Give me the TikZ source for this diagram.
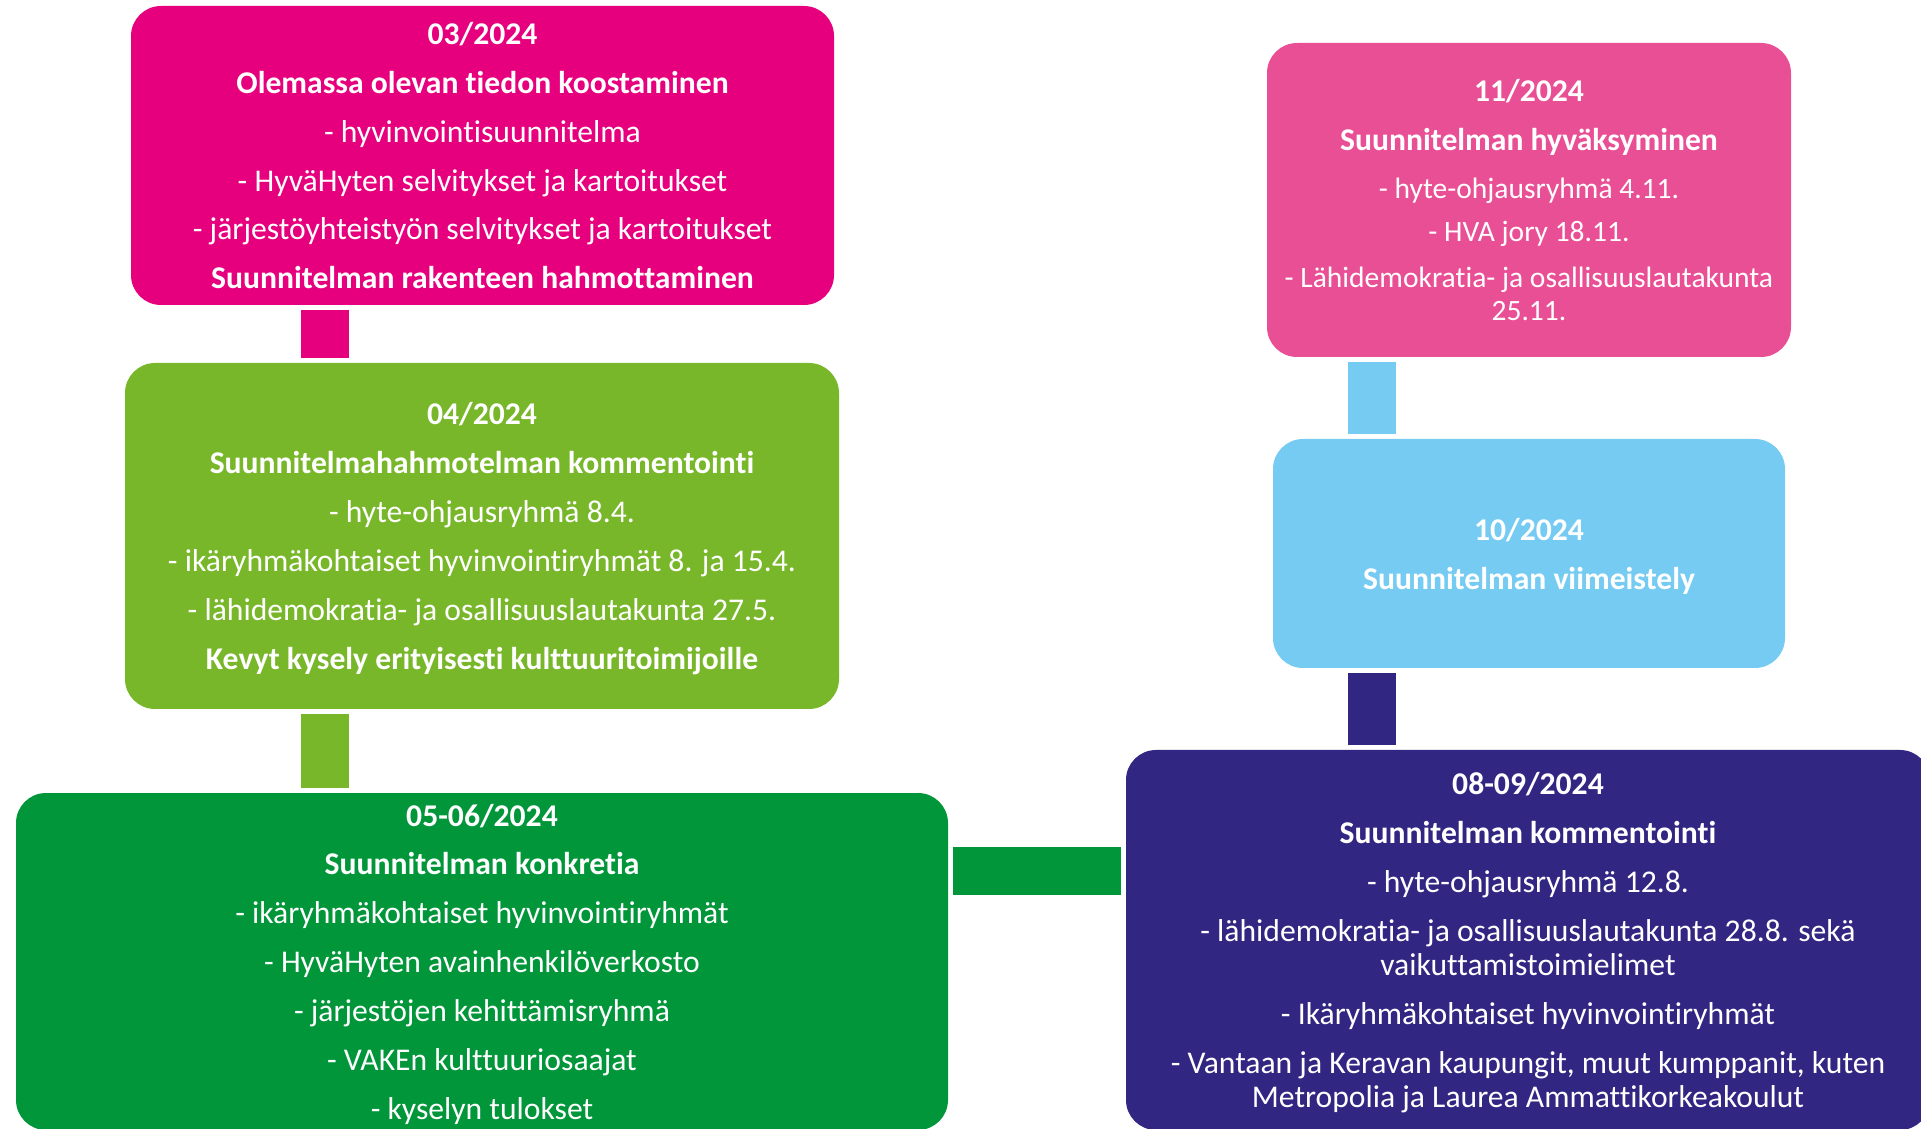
\documentclass[tikz,border=0pt]{standalone}
\usepackage{fontspec}
\setmainfont{Carlito}[Ligatures=NoCommon,Contextuals=NoAlternate]
\usepackage{xcolor}
\usetikzlibrary{positioning,calc}

\definecolor{phasemag}{HTML}{E6007E}
\definecolor{phaselime}{HTML}{78B72A}
\definecolor{phasegreen}{HTML}{009639}
\definecolor{phasepink}{HTML}{E94F94}
\definecolor{phasesky}{HTML}{76CBF2}
\definecolor{phasenavy}{HTML}{312682}
\newcommand{\phasehead}[1]{{\fontsize{9}{9.7}\selectfont\bfseries #1}}

\begin{document}
\begin{tikzpicture}
      [stage/.style={rounded corners=3mm,inner sep=0,text depth=0pt,text=white,align=center,font=\fontsize{9}{9.7}\selectfont},
       link/.style={line width=4.8mm,shorten <=0.4mm,shorten >=0.4mm}]
      \useasboundingbox (0,0) rectangle (19.21,-11.29);
      \clip (0,0) rectangle (19.21,-11.29);

      \node[stage,fill=phasemag,minimum width=7.03cm,minimum height=2.99cm] (mar) at (4.825,-1.555)
        {\textbf{03/2024}\\[4.2pt]\textbf{Olemassa olevan tiedon koostaminen}\\[4.2pt]- hyvinvointisuunnitelma\\[4.2pt]- HyväHyten selvitykset ja kartoitukset\\[4.2pt]- järjestöyhteistyön selvitykset ja kartoitukset\\[4.2pt]\textbf{Suunnitelman rakenteen hahmottaminen}};
      \node[stage,fill=phaselime,minimum width=7.14cm,minimum height=3.46cm] (apr) at (4.82,-5.36)
        {\textbf{04/2024}\\[4.2pt]\textbf{Suunnitelmahahmotelman kommentointi}\\[4.2pt]- hyte-ohjausryhmä 8.4.\\[4.2pt]- ikäryhmäkohtaiset hyvinvointiryhmät 8. ja 15.4.\\[4.2pt]- lähidemokratia- ja osallisuuslautakunta 27.5.\\[4.2pt]\textbf{Kevyt kysely erityisesti kulttuuritoimijoille}};
      \node[stage,fill=phasegreen,minimum width=9.32cm,minimum height=3.37cm] (jun) at (4.82,-9.615)
        {\textbf{05-06/2024}\\[4.2pt]\textbf{Suunnitelman konkretia}\\[4.2pt]- ikäryhmäkohtaiset hyvinvointiryhmät\\[4.2pt]- HyväHyten avainhenkilöverkosto\\[4.2pt]- järjestöjen kehittämisryhmä\\[4.2pt]- VAKEn kulttuuriosaajat\\[4.2pt]- kyselyn tulokset};
      \node[stage,fill=phasenavy,minimum width=8.04cm,minimum height=3.80cm] (sep) at (15.28,-9.40)
        {\textbf{08-09/2024}\\[4.2pt]\textbf{Suunnitelman kommentointi}\\[4.2pt]- hyte-ohjausryhmä 12.8.\\[4.2pt]- lähidemokratia- ja osallisuuslautakunta 28.8. sekä\\vaikuttamistoimielimet\\[4.2pt]- Ikäryhmäkohtaiset hyvinvointiryhmät\\[4.2pt]- Vantaan ja Keravan kaupungit, muut kumppanit, kuten\\Metropolia ja Laurea Ammattikorkeakoulut};
      \node[stage,fill=phasesky,minimum width=5.12cm,minimum height=2.29cm] (oct) at (15.29,-5.535)
        {\textbf{10/2024}\\[4.2pt]\textbf{Suunnitelman viimeistely}};
      \node[stage,fill=phasepink,minimum width=5.24cm,minimum height=3.14cm,font=\fontsize{8.4}{9}\selectfont] (nov) at (15.29,-2.00)
        {\phasehead{11/2024}\\[4.9pt]\phasehead{Suunnitelman hyväksyminen}\\[4.9pt]- hyte-ohjausryhmä 4.11.\\[3.2pt]- HVA jory 18.11.\\[4.1pt]- Lähidemokratia- ja osallisuuslautakunta\\[0.4pt]25.11.};

      \coordinate (leftx) at (3.245,0);
      \coordinate (rightx) at (13.715,0);
      \coordinate (midy) at (0,-8.705);

      \draw[link,phasemag] (mar.south -| leftx) -- (apr.north -| leftx);
      \draw[link,phaselime] (apr.south -| leftx) -- (jun.north -| leftx);
      \draw[link,phasegreen] (jun.east |- midy) -- (sep.west |- midy);
      \draw[link,phasenavy] (sep.north -| rightx) -- (oct.south -| rightx);
      \draw[link,phasesky] (oct.north -| rightx) -- (nov.south -| rightx);
    \end{tikzpicture}
\end{document}
